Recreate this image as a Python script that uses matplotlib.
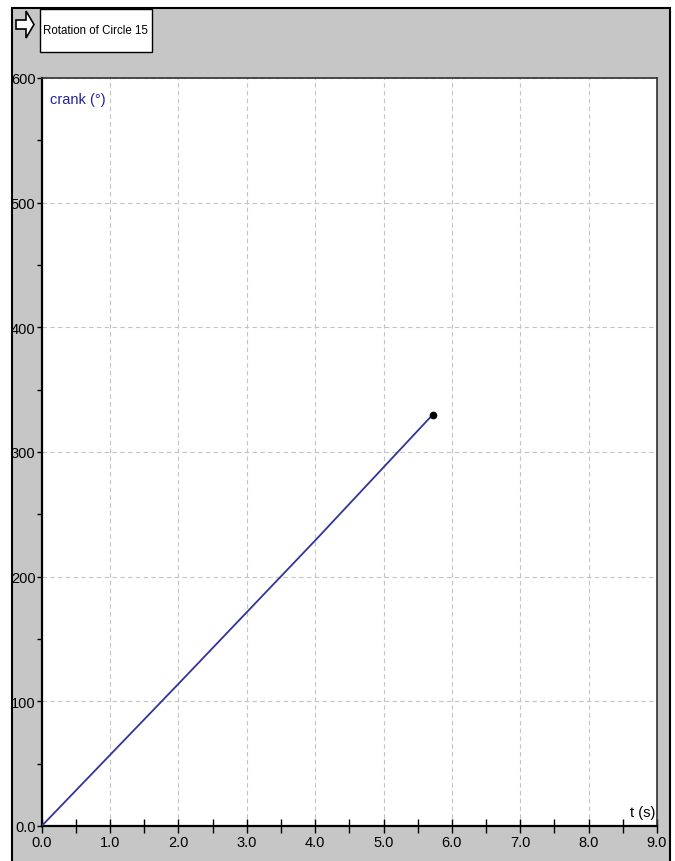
import matplotlib
matplotlib.use("Agg")
import matplotlib.pyplot as plt
from matplotlib.patches import Rectangle, Polygon
from matplotlib.ticker import MultipleLocator, FuncFormatter

# ---- data ----
t_values = [0.0, 2.0, 4.0, 5.72]
crank_values = [0.0, 114.0, 229.0, 330.0]
x_ticks = [0, 1, 2, 3, 4, 5, 6, 7, 8, 9]
y_ticks = [0, 100, 200, 300, 400, 500, 600]
title_text = "Rotation of Circle 15"
series_label = "crank (°)"
x_unit_label = "t (s)"

W, H = 675, 862
FONT = ['Liberation Sans', 'DejaVu Sans']
plt.rcParams['font.family'] = FONT

fig = plt.figure(figsize=(W / 100, H / 100), dpi=100)
fig.patch.set_facecolor('white')


def fx(px):
    return px / W


def fy(py):
    return 1 - py / H


# grey panel with black frame
fig.patches.append(Rectangle((fx(12), fy(862) - 0.01), fx(670) - fx(12), fy(9) - fy(862) + 0.01,
                             transform=fig.transFigure, facecolor='#c6c6c6',
                             edgecolor='black', lw=1.5, zorder=-2))

# title box
fig.patches.append(Rectangle((fx(40), fy(53)), fx(152) - fx(40), fy(10) - fy(53),
                             transform=fig.transFigure, facecolor='white',
                             edgecolor='black', lw=1.0, zorder=-1))
fig.text(fx(43), fy(31), title_text, ha='left', va='center', fontsize=8.3,
         color='black', zorder=2)

# arrow icon
arrow_px = [(16, 21), (26, 21), (26, 12), (34, 25.5), (26, 39), (26, 30), (16, 30)]
fig.patches.append(Polygon([(fx(x), fy(y)) for x, y in arrow_px], closed=True,
                           transform=fig.transFigure, facecolor='white',
                           edgecolor='black', lw=1.2, zorder=-1))

# axes
left, right, top, bottom = 41.7, 657, 79, 827
ax = fig.add_axes([fx(left), fy(bottom), fx(right) - fx(left), fy(top) - fy(bottom)])
ax.set_zorder(5)
ax.set_facecolor('white')
ax.set_xlim(0, 9)
ax.set_ylim(0, 600)

ax.set_xticks(x_ticks)
ax.set_yticks(y_ticks)
ax.xaxis.set_minor_locator(MultipleLocator(0.5))
ax.yaxis.set_minor_locator(MultipleLocator(50))
ax.xaxis.set_major_formatter(FuncFormatter(lambda v, p: f"{v:.1f}"))
ax.yaxis.set_major_formatter(FuncFormatter(lambda v, p: "0.0" if v == 0 else f"{int(v)}"))

ax.tick_params(axis='x', which='both', direction='inout', length=9.5, width=1.0,
               pad=1.5, labelsize=10.5, colors='black')
ax.tick_params(axis='y', which='both', direction='out', length=3.5, width=1.0,
               pad=1, labelsize=10.5, colors='black')

for s in ['left', 'bottom']:
    ax.spines[s].set_color('black')
    ax.spines[s].set_linewidth(1.6)
for s in ['top', 'right']:
    ax.spines[s].set_color('#303030')
    ax.spines[s].set_linewidth(1.2)

ax.grid(True, which='major', color='#c4c4c4', linestyle=(0, (4, 3)), linewidth=0.8)
ax.set_axisbelow(True)

ax.plot(t_values, crank_values, color='#33339a', lw=1.3, zorder=3)
ax.plot([t_values[-1]], [crank_values[-1]], marker='o', markersize=4.5, color='black',
        zorder=4, clip_on=False)

ax.text((50 - left) / (right - left), (bottom - 93) / (bottom - top), series_label,
        transform=ax.transAxes, ha='left', va='top', fontsize=10.5, color='#22229a')
ax.text((655 - left) / (right - left), (bottom - 820) / (bottom - top), x_unit_label,
        transform=ax.transAxes, ha='right', va='bottom', fontsize=10.5, color='black')

fig.savefig('out.png', dpi=100)
